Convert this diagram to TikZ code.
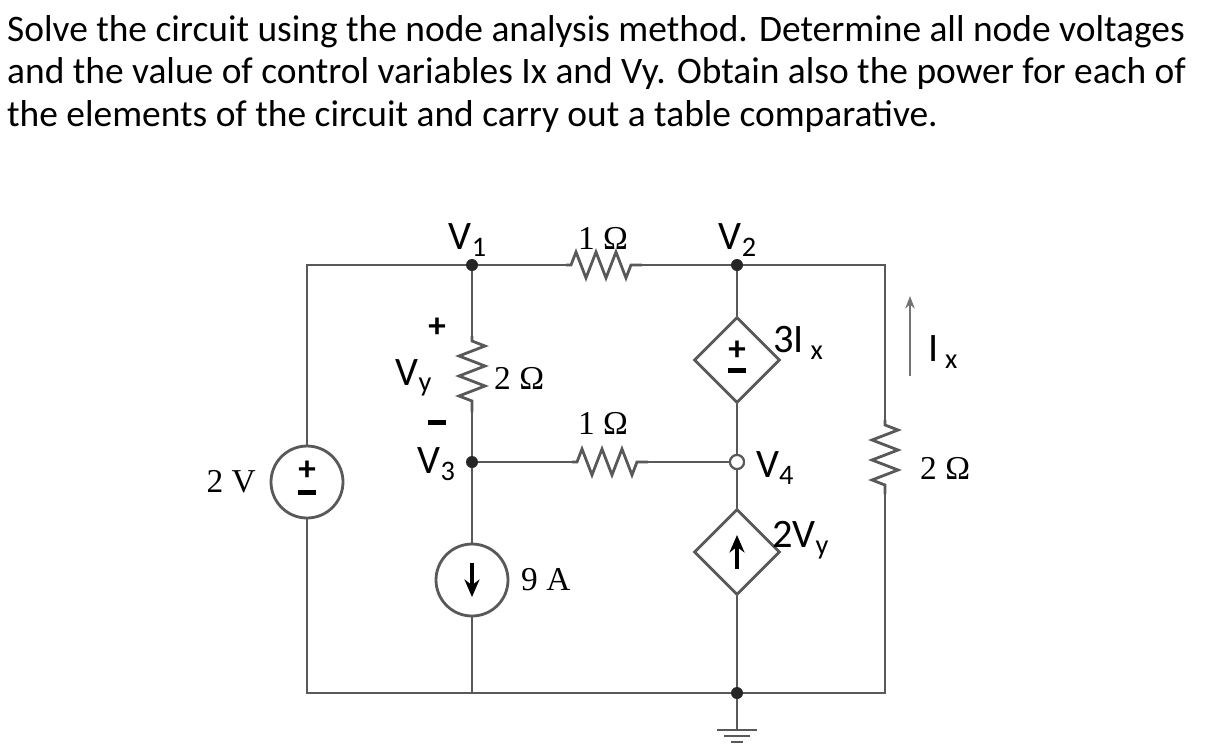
\documentclass[tikz,border=0pt]{standalone}
\usepackage{fontspec}
\setmainfont{Carlito}
\newfontfamily\valfont{Liberation Serif}
\usetikzlibrary{arrows.meta,positioning,calc,shapes.geometric,decorations.pathmorphing}

\tikzset{
    wire/.style = {draw=black!65, line width=1.6pt},
    res/.style = {wire, decorate, decoration={zigzag, amplitude=2.6mm, segment length=4mm, pre length=1mm, post length=1mm}},
    dot/.style = {circle, fill=black!85, inner sep=0pt, minimum size=2.4mm},
    odot/.style = {circle, draw=black!65, fill=white, line width=1.2pt, inner sep=0pt, minimum size=2.8mm},
    src/.style = {circle, draw=black!65, line width=1.6pt, minimum size=14.4mm, inner sep=0pt},
    dsrc/.style = {diamond, draw=black!65, line width=1.6pt, minimum size=17.2mm, inner sep=0pt},
    sign/.style = {font=\bfseries\fontsize{20}{20}\selectfont, inner sep=0pt},
    lbl/.style = {font=\fontsize{23}{24}\selectfont},
    val/.style = {font=\fontsize{19}{22}\selectfont\valfont}
}
\newcommand{\mns}{\rule[0.25ex]{0.5em}{0.14em}}

\begin{document}
\begin{tikzpicture}[x=0.02cm, y=-0.02cm]
    \useasboundingbox (0,0) rectangle (1217,755);

    % header text
    \node (t1) [anchor=west, font=\fontsize{21.3}{24}\selectfont] at (1,32) {Solve the circuit using the node analysis method. Determine all node voltages};
    \node (t2) [anchor=west, font=\fontsize{21.3}{24}\selectfont] at (1,74) {and the value of control variables Ix and Vy. Obtain also the power for each of};
    \node (t3) [anchor=west, font=\fontsize{21.3}{24}\selectfont] at (1,117) {the elements of the circuit and carry out a table comparative.};

    % nodes of the circuit
    \coordinate (tl) at (307,265);
    \coordinate (bl) at (307,693);
    \coordinate (tr) at (885,265);
    \coordinate (br) at (885,693);
    \node (v1) [dot] at (472,265) {};
    \node (v2) [dot] at (737,265) {};
    \node (v3) [dot] at (472,462) {};
    \node (v4) [odot] at (737,462) {};
    \node (gnd) [dot] at (737,693) {};
    \coordinate (b3) at (472,693);

    % sources
    \node (vs) [src] at (307,482) {};
    \node (cs) [src] at (472,580) {};
    \node (dv) [dsrc] at (737,360) {};
    \node (dc) [dsrc] at (737,552) {};

    % resistor ends
    \coordinate (r1a) at (566,265);  \coordinate (r1b) at (642,265);
    \coordinate (r2a) at (472,336);  \coordinate (r2b) at (472,412);
    \coordinate (r3a) at (572,462);  \coordinate (r3b) at (648,462);
    \coordinate (r4a) at (885,420);  \coordinate (r4b) at (885,494);

    % wiring
    \draw[wire] (vs.north) -- (tl) -- (v1) -- (r1a);
    \draw[res] (r1a) -- (r1b);
    \draw[wire] (r1b) -- (v2) -- (tr) -- (r4a);
    \draw[res] (r4a) -- (r4b);
    \draw[wire] (r4b) -- (br) -- (gnd) -- (b3) -- (bl) -- (vs.south);
    \draw[wire] (v1) -- (r2a);
    \draw[res] (r2a) -- (r2b);
    \draw[wire] (r2b) -- (v3) -- (cs.north);
    \draw[wire] (cs.south) -- (b3);
    \draw[wire] (v3) -- (r3a);
    \draw[res] (r3a) -- (r3b);
    \draw[wire] (r3b) -- (v4);
    \draw[wire] (v2) -- (dv.north);
    \draw[wire] (dv.south) -- (v4) -- (dc.north);
    \draw[wire] (dc.south) -- (gnd);
    \node (v4b) [odot] at (v4) {};

    % ground
    \coordinate (g0) at (737,730);
    \draw[wire] (gnd) -- (g0);
    \draw[wire, line width=1.2pt] ($(g0)+(-20,0)$) -- ($(g0)+(20,0)$);
    \draw[wire, line width=1.2pt] ($(g0)+(-13,6)$) -- ($(g0)+(13,6)$);
    \draw[wire, line width=1.2pt] ($(g0)+(-6,12)$) -- ($(g0)+(6,12)$);

    % source symbols
    \node (vsp) [sign] at ($(vs)+(0,-11)$) {+};
    \node (vsm) [sign] at ($(vs)+(0,13)$) {\mns};
    \node (dvp) [sign] at ($(dv)+(0,-9)$) {+};
    \node (dvm) [sign] at ($(dv)+(0,13)$) {\mns};
    \draw[-{Stealth[length=3.5mm,width=3mm]}, line width=1.8pt] ($(cs)+(0,-17)$) -- ($(cs)+(0,17)$);
    \draw[-{Stealth[length=3.5mm,width=3mm]}, line width=1.8pt] ($(dc)+(0,17)$) -- ($(dc)+(0,-17)$);

    % current arrow Ix
    \coordinate (ixa) at (910,376);
    \coordinate (ixb) at (910,296);
    \draw[draw=black!55, line width=1.3pt, -{Stealth[length=2.5mm]}] (ixa) -- (ixb);

    % labels
    \node (lv1) [lbl] at (468,240) {V\textsubscript{1}};
    \node (lv2) [lbl] at (738,240) {V\textsubscript{2}};
    \node (lv3) [lbl, anchor=east] at (462,464) {V\textsubscript{3}};
    \node (lv4) [lbl, anchor=west] at (750,468) {V\textsubscript{4}};
    \node (lvy) [lbl] at (414,378) {V\textsubscript{y}};
    \node (lvyp) [sign] at (437,328) {+};
    \node (lvym) [sign] at (437,425) {\mns};
    \node (l1a) [val] at (603,238) {1 Ω};
    \node (l1b) [val] at (603,423) {1 Ω};
    \node (l2a) [val, anchor=west] at (488,378) {2 Ω};
    \node (l2b) [val, anchor=west] at (914,468) {2 Ω};
    \node (l2v) [val, anchor=east] at (262,482) {2 V};
    \node (l9a) [val, anchor=west] at (515,580) {9 A};
    \node (l3i) [lbl, anchor=west] at (767,343) {3I\,\textsubscript{x}};
    \node (lix) [lbl, anchor=west] at (922,352) {I\,\textsubscript{x}};
    \node (l2vy) [lbl, anchor=west] at (766,540) {2V\textsubscript{y}};
\end{tikzpicture}
\end{document}
